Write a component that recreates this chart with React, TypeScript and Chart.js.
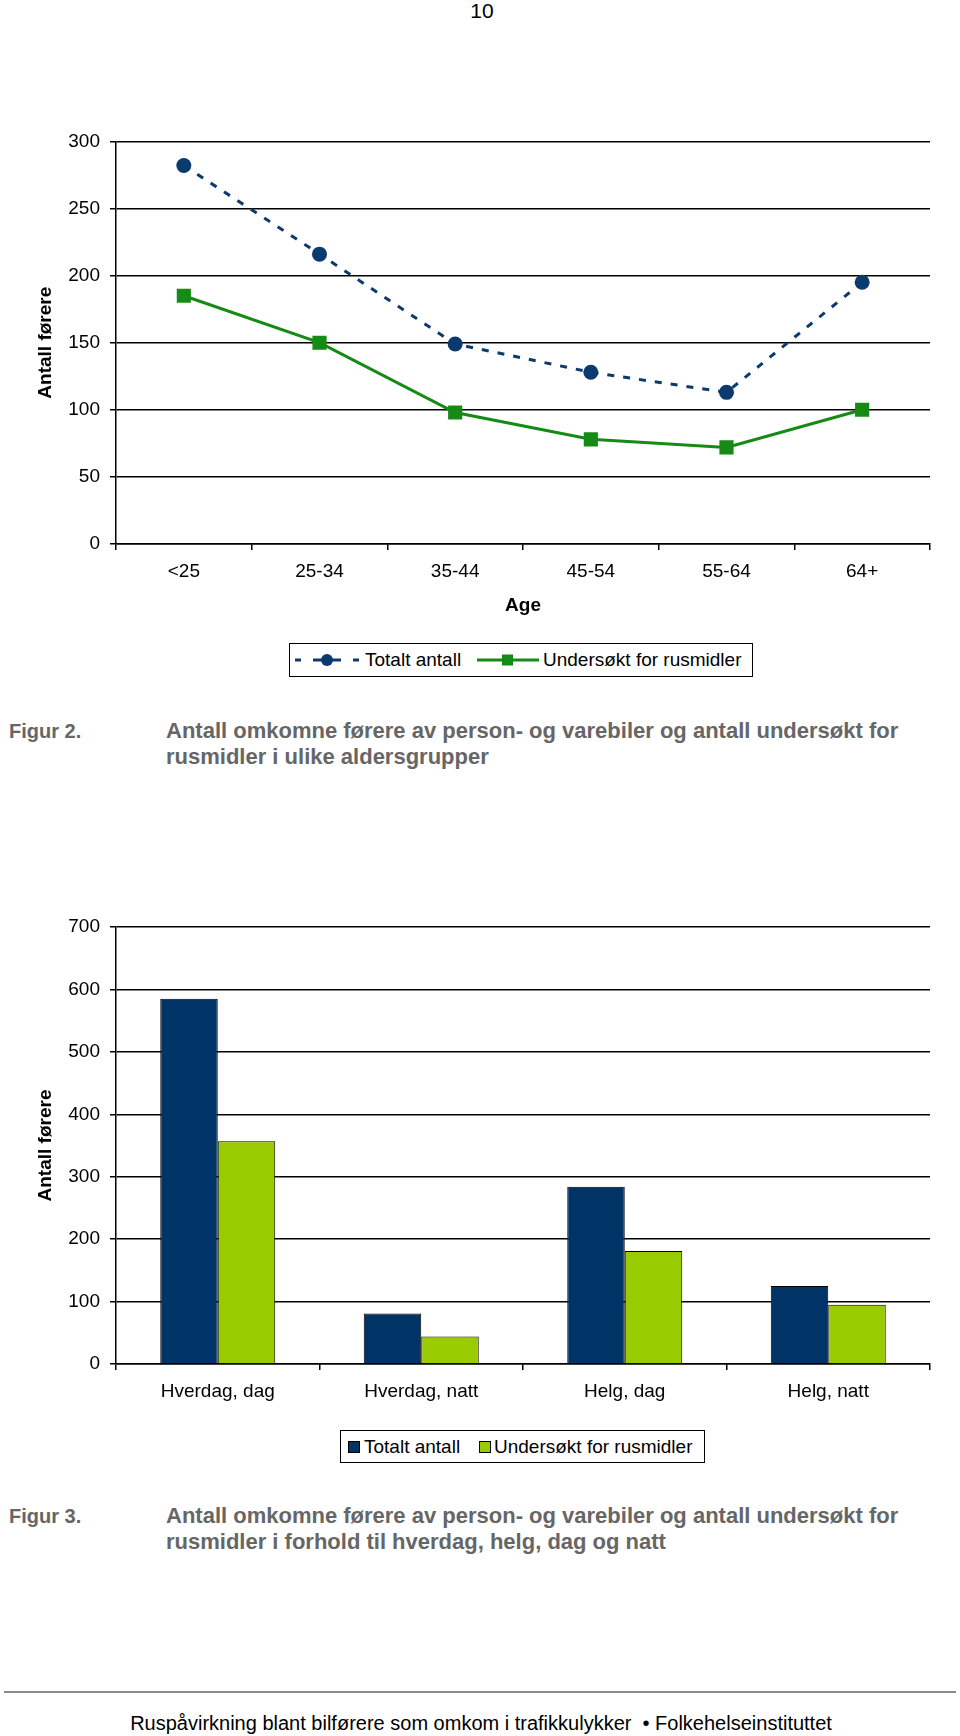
import React, { useEffect, useRef } from "react";
import { Chart, registerables } from "chart.js";

Chart.register(...registerables);

const ageLabels = ["<25", "25-34", "35-44", "45-54", "55-64", "64+"];
const totalByAge = [282, 216, 149, 128, 113, 195];
const testedByAge = [185, 150, 98, 78, 72, 100];

const periodLabels = ["Hverdag, dag", "Hverdag, natt", "Helg, dag", "Helg, natt"];
const totalByPeriod = [585, 81, 284, 125];
const testedByPeriod = [357, 44, 181, 95];

const seriesNames = ["Totalt antall", "Undersøkt for rusmidler"];
const yTitle = "Antall førere";
const xTitleAge = "Age";

const FONT = "'Liberation Sans', Arial, Helvetica, sans-serif";
const NAVY = "#0b3a6e";
const GREEN = "#158a15";
const BAR_NAVY = "#003366";
const BAR_LIME = "#99cc00";

function baseScales(max: number, step: number, xTitle: string | null, xHeight: number) {
  return {
    x: {
      offset: true,
      grid: {
        display: true,
        drawOnChartArea: false,
        drawTicks: true,
        tickLength: 6,
        offset: true,
        color: "#000",
        lineWidth: 1.5,
      },
      border: { display: true, color: "#000", width: 1.5 },
      ticks: { color: "#000", font: { family: FONT, size: 19 }, padding: 10, maxRotation: 0, autoSkip: false },
      title: xTitle
        ? { display: true, text: xTitle, color: "#000", font: { family: FONT, size: 19, weight: "bold" }, padding: { top: 0, bottom: 3 } }
        : { display: false },
      afterFit: (s: any) => {
        s.height = xHeight;
      },
    },
    y: {
      min: 0,
      max,
      ticks: { stepSize: step, color: "#000", font: { family: FONT, size: 19 }, padding: 10 },
      grid: { color: "#000", lineWidth: 1.5, drawTicks: true, tickLength: 6 },
      border: { display: true, color: "#000", width: 1.5 },
      title: { display: true, text: yTitle, color: "#000", font: { family: FONT, size: 19, weight: "bold" }, padding: { top: 34, bottom: 0 } },
      afterFit: (s: any) => {
        s.width = 116;
      },
    },
  };
}

function LineChart() {
  const ref = useRef<HTMLCanvasElement>(null);
  useEffect(() => {
    const chart = new Chart(ref.current!, {
      type: "line",
      data: {
        labels: ageLabels,
        datasets: [
          {
            label: seriesNames[0],
            data: totalByAge,
            borderColor: NAVY,
            backgroundColor: NAVY,
            borderWidth: 3,
            borderDash: [7, 9],
            pointStyle: "circle",
            pointRadius: 7.5,
            pointBorderWidth: 0,
            pointBackgroundColor: NAVY,
          },
          {
            label: seriesNames[1],
            data: testedByAge,
            borderColor: GREEN,
            backgroundColor: GREEN,
            borderWidth: 3,
            pointStyle: "rect",
            pointRadius: 10,
            pointBorderWidth: 0,
            pointBackgroundColor: GREEN,
          },
        ],
      },
      options: {
        animation: false,
        responsive: false,
        maintainAspectRatio: false,
        layout: { padding: { top: 21, right: 30, left: 0, bottom: 0 } },
        plugins: { legend: { display: false }, tooltip: { enabled: false }, title: { display: false } },
        scales: baseScales(300, 50, xTitleAge, 76) as any,
      },
    });
    return () => chart.destroy();
  }, []);
  return <canvas ref={ref} width={960} height={500} style={{ position: "absolute", left: 0, top: 120, width: 960, height: 500 }} />;
}

function BarChart() {
  const ref = useRef<HTMLCanvasElement>(null);
  useEffect(() => {
    const chart = new Chart(ref.current!, {
      type: "bar",
      data: {
        labels: periodLabels,
        datasets: [
          {
            label: seriesNames[0],
            data: totalByPeriod,
            backgroundColor: BAR_NAVY,
            borderColor: "#000",
            borderWidth: 1,
            categoryPercentage: 0.565,
            barPercentage: 1,
          },
          {
            label: seriesNames[1],
            data: testedByPeriod,
            backgroundColor: BAR_LIME,
            borderColor: "#000",
            borderWidth: 1,
            categoryPercentage: 0.565,
            barPercentage: 1,
          },
        ],
      },
      options: {
        animation: false,
        responsive: false,
        maintainAspectRatio: false,
        layout: { padding: { top: 27, right: 30, left: 0, bottom: 0 } },
        plugins: { legend: { display: false }, tooltip: { enabled: false }, title: { display: false } },
        scales: baseScales(700, 100, null, 66) as any,
      },
    });
    return () => chart.destroy();
  }, []);
  return <canvas ref={ref} width={960} height={530} style={{ position: "absolute", left: 0, top: 900, width: 960, height: 530 }} />;
}

const textBase: React.CSSProperties = { position: "absolute", fontFamily: FONT, whiteSpace: "nowrap" };

function Caption({ top, fig, lines }: { top: number; fig: string; lines: string[] }) {
  const st: React.CSSProperties = { ...textBase, top, fontWeight: "bold", color: "#666", lineHeight: "26px" };
  return (
    <>
      <div style={{ ...st, left: 9, fontSize: 20 }}>{fig}</div>
      <div style={{ ...st, left: 166, fontSize: 22 }}>
        {lines.map((l, i) => (
          <div key={i}>{l}</div>
        ))}
      </div>
    </>
  );
}

export default function App() {
  return (
    <div style={{ position: "absolute", left: 0, top: 0, width: 960, height: 1736, background: "#fff", overflow: "hidden" }}>
      <div style={{ ...textBase, top: 0, left: 0, width: 964, textAlign: "center", fontSize: 21, lineHeight: "21px", color: "#000" }}>10</div>

      <LineChart />

      {/* legend 1 */}
      <div style={{ position: "absolute", left: 289, top: 643, width: 462, height: 32, border: "1.5px solid #000", boxSizing: "content-box" }}>
        <svg width={64} height={32} style={{ position: "absolute", left: 5, top: 0 }}>
          <line x1={0} y1={16} x2={6} y2={16} stroke={NAVY} strokeWidth={3} />
          <line x1={18} y1={16} x2={46} y2={16} stroke={NAVY} strokeWidth={3} />
          <line x1={58} y1={16} x2={64} y2={16} stroke={NAVY} strokeWidth={3} />
          <circle cx={32} cy={16} r={6} fill={NAVY} />
        </svg>
        <div style={{ ...textBase, left: 75, top: 0, lineHeight: "32px", fontSize: 19, color: "#000" }}>{seriesNames[0]}</div>
        <svg width={62} height={32} style={{ position: "absolute", left: 187, top: 0 }}>
          <line x1={0} y1={16} x2={62} y2={16} stroke={GREEN} strokeWidth={3} />
          <rect x={25} y={10.5} width={11} height={11} fill={GREEN} />
        </svg>
        <div style={{ ...textBase, left: 253, top: 0, lineHeight: "32px", fontSize: 19, color: "#000" }}>{seriesNames[1]}</div>
      </div>

      <Caption top={718} fig="Figur 2." lines={["Antall omkomne førere av person- og varebiler og antall undersøkt for", "rusmidler i ulike aldersgrupper"]} />

      <BarChart />

      {/* legend 2 */}
      <div style={{ position: "absolute", left: 340, top: 1430, width: 363, height: 31, border: "1.5px solid #000", boxSizing: "content-box" }}>
        <div style={{ position: "absolute", left: 7, top: 10, width: 10, height: 10, background: BAR_NAVY, border: "1px solid #000" }} />
        <div style={{ ...textBase, left: 23, top: 0, lineHeight: "31px", fontSize: 19, color: "#000" }}>{seriesNames[0]}</div>
        <div style={{ position: "absolute", left: 138, top: 10, width: 10, height: 10, background: BAR_LIME, border: "1px solid #000" }} />
        <div style={{ ...textBase, left: 153, top: 0, lineHeight: "31px", fontSize: 19, color: "#000" }}>{seriesNames[1]}</div>
      </div>

      <Caption top={1503} fig="Figur 3." lines={["Antall omkomne førere av person- og varebiler og antall undersøkt for", "rusmidler i forhold til hverdag, helg, dag og natt"]} />

      <div style={{ position: "absolute", left: 4, top: 1691, width: 952, height: 2, background: "#8a8a8a" }} />
      <div style={{ ...textBase, top: 1711, left: 0, width: 962, textAlign: "center", fontSize: 20, lineHeight: "24px", color: "#000" }}>
        Ruspåvirkning blant bilførere som omkom i trafikkulykker {"\u00a0"}• Folkehelseinstituttet
      </div>
    </div>
  );
}
